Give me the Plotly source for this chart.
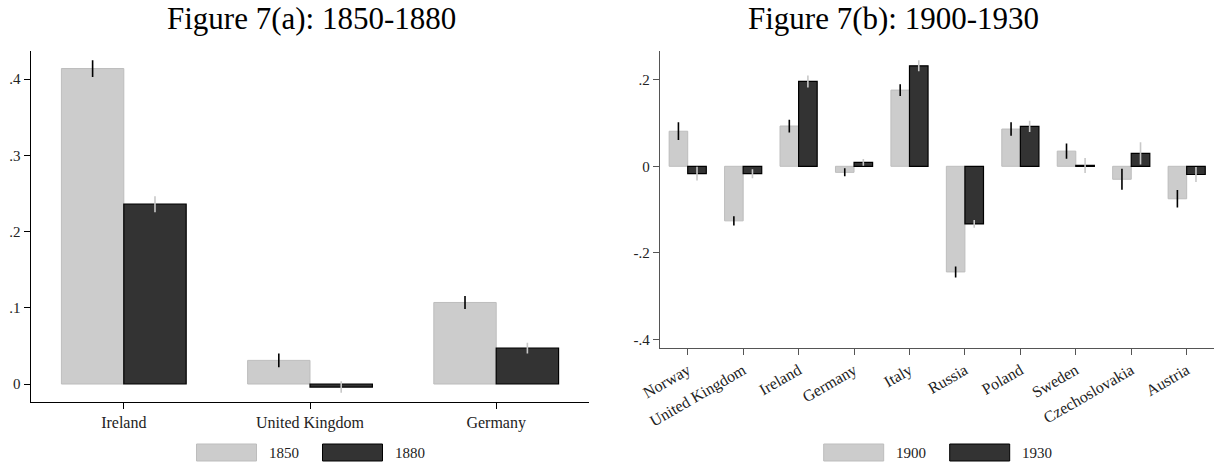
import plotly.graph_objects as go

# ---- Panel (a): 1850-1880 ----
countries_a = ["Ireland", "United Kingdom", "Germany"]
years_a = ["1850", "1880"]
val_1850 = [0.414, 0.031, 0.107]
err_1850 = [0.011, 0.009, 0.0085]
val_1880 = [0.236, -0.004, 0.047]
err_1880 = [0.0105, 0.0075, 0.007]
yticks_a = [0, 0.1, 0.2, 0.3, 0.4]
yticklabels_a = ["0", ".1", ".2", ".3", ".4"]

# ---- Panel (b): 1900-1930 ----
countries_b = ["Norway", "United Kingdom", "Ireland", "Germany", "Italy",
               "Russia", "Poland", "Sweden", "Czechoslovakia", "Austria"]
years_b = ["1900", "1930"]
val_1900 = [0.081, -0.126, 0.093, -0.014, 0.176, -0.244, 0.086, 0.035, -0.030, -0.075]
err_1900 = [0.0205, 0.0105, 0.0147, 0.0092, 0.0135, 0.0127, 0.0157, 0.0177, 0.0243, 0.020]
val_1930 = [-0.017, -0.017, 0.196, 0.009, 0.232, -0.133, 0.092, 0.002, 0.030, -0.019]
err_1930 = [0.016, 0.0104, 0.014, 0.0077, 0.0127, 0.0092, 0.013, 0.0173, 0.0258, 0.0173]
yticks_b = [-0.4, -0.2, 0, 0.2]
yticklabels_b = ["-.4", "-.2", "0", ".2"]

W, H = 1219, 466
LIGHT, LIGHT_EDGE = "#cccccc", "#bdbdbd"
DARK, DARK_EDGE = "#333333", "#000000"
SERIF = "Liberation Serif"


def px_x(p):
    return p / W


def px_y(p):
    return 1 - p / H


fig = go.Figure()


def add_pair(xref, yref, cats, v1, e1, v2, e2, names):
    fig.add_trace(go.Bar(
        x=cats, y=v1, name=names[0], xaxis=xref, yaxis=yref,
        marker=dict(color=LIGHT, line=dict(color=LIGHT_EDGE, width=1)),
        error_y=dict(type="data", array=e1, color="#000000", thickness=1.6, width=0),
        showlegend=False))
    fig.add_trace(go.Bar(
        x=cats, y=v2, name=names[1], xaxis=xref, yaxis=yref,
        marker=dict(color=DARK, line=dict(color=DARK_EDGE, width=1.2)),
        error_y=dict(type="data", array=e2, color="#c8c8c8", thickness=1.6, width=0),
        showlegend=False))


add_pair("x", "y", countries_a, val_1850, err_1850, val_1880, err_1880, years_a)
add_pair("x2", "y2", countries_b, val_1900, err_1900, val_1930, err_1930, years_b)

# plot areas in pixels: (left, right, top, bottom)
area_a = (30.7, 589.3, 50.7, 402.0)
area_b = (660.0, 1214.4, 50.7, 347.7)

tickfont = dict(family=SERIF, size=15, color="#222222")
catfont = dict(family=SERIF, size=16, color="#222222")

common = dict(showgrid=False, zeroline=False, automargin=False, ticks="outside",
              ticklen=6, tickwidth=1.2)

fig.update_layout(
    width=W, height=H,
    margin=dict(l=0, r=0, t=0, b=0, autoexpand=False),
    paper_bgcolor="white", plot_bgcolor="white",
    barmode="group", bargap=0.33, bargroupgap=0,
    xaxis=dict(domain=[px_x(area_a[0]), px_x(area_a[1])], anchor="y",
               range=[-0.5, 2.5], showline=True, linecolor="#000000", linewidth=1.2,
               tickcolor="#000000", tickfont=catfont, **common),
    yaxis=dict(domain=[px_y(area_a[3]), px_y(area_a[2])], anchor="x",
               range=[-0.0236, 0.4374], showline=True, linecolor="#000000", linewidth=1.2,
               tickcolor="#000000", tickvals=yticks_a, ticktext=yticklabels_a,
               tickfont=tickfont, **common),
    xaxis2=dict(domain=[px_x(area_b[0]), px_x(area_b[1])], anchor="y2",
                range=[-0.5, 9.5], showline=True, linecolor="#555555", linewidth=1.4,
                tickcolor="#555555", tickangle=-30, tickfont=catfont, **common),
    yaxis2=dict(domain=[px_y(area_b[3]), px_y(area_b[2])], anchor="x2",
                range=[-0.419, 0.267], showline=True, linecolor="#555555", linewidth=1.4,
                tickcolor="#555555", tickvals=yticks_b, ticktext=yticklabels_b,
                tickfont=tickfont, **common),
)

# panel titles
titles = [("Figure 7(a): 1850-1880", 311.0), ("Figure 7(b): 1900-1930", 893.7)]
for text, cx in titles:
    fig.add_annotation(text=text, x=px_x(cx), y=px_y(18), xref="paper", yref="paper",
                       xanchor="center", yanchor="middle", showarrow=False,
                       font=dict(family=SERIF, size=31, color="#000000"))


# legends below each panel: wide swatches with year labels
def add_legend(area, names):
    cx = (area[0] + area[1]) / 2
    sw, gap_text, text_w, gap_item = 60, 10, 31, 25
    total = 2 * (sw + gap_text + text_w) + gap_item
    x0 = cx - total / 2
    y_top, y_bot = 444, 461
    styles = [(LIGHT, LIGHT_EDGE), (DARK, DARK_EDGE)]
    for i, name in enumerate(names):
        fill, edge = styles[i]
        fig.add_shape(type="rect", xref="paper", yref="paper",
                      x0=px_x(x0), x1=px_x(x0 + sw), y0=px_y(y_bot), y1=px_y(y_top),
                      fillcolor=fill, line=dict(color=edge, width=1))
        fig.add_annotation(text=name, x=px_x(x0 + sw + gap_text), y=px_y((y_top + y_bot) / 2),
                           xref="paper", yref="paper", xanchor="left", yanchor="middle",
                           showarrow=False, font=dict(family=SERIF, size=15, color="#222222"))
        x0 += sw + gap_text + text_w + gap_item


add_legend(area_a, years_a)
add_legend(area_b, years_b)

fig.write_html("out.html")
